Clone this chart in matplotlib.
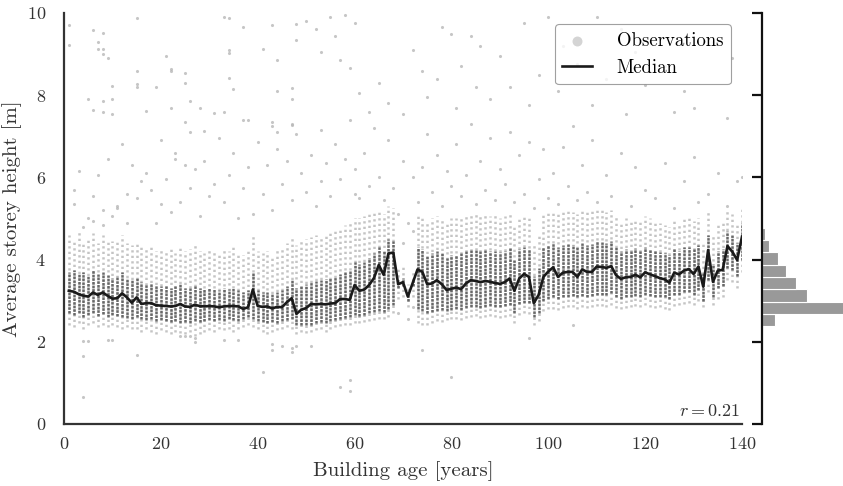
import matplotlib
matplotlib.use("Agg")
import matplotlib.pyplot as plt
import numpy as np

plt.rcParams['font.family'] = 'cmr10'
plt.rcParams['mathtext.fontset'] = 'cm'
plt.rcParams['axes.formatter.use_mathtext'] = True

# median storey height per building age (years 1..140)
ages = np.arange(1, 141)
median = [3.24, 3.22, 3.16, 3.12, 3.10, 3.20, 3.14, 3.20, 3.12, 3.05,
          3.06, 3.18, 3.08, 2.95, 3.08, 2.92, 2.94, 2.94, 2.89, 2.88,
          2.87, 2.86, 2.87, 2.92, 2.86, 2.85, 2.90, 2.87, 2.86, 2.87,
          2.86, 2.84, 2.86, 2.87, 2.87, 2.86, 2.80, 2.84, 3.27, 2.87,
          2.85, 2.86, 2.81, 2.85, 2.84, 2.96, 3.06, 2.68, 2.78, 2.82,
          2.92, 2.91, 2.92, 2.91, 2.93, 2.94, 3.04, 3.04, 3.02, 3.38,
          3.24, 3.27, 3.38, 3.55, 3.87, 3.63, 4.15, 4.17, 3.40, 3.45,
          3.10, 3.43, 3.76, 3.70, 3.40, 3.42, 3.50, 3.40, 3.26, 3.29,
          3.32, 3.28, 3.42, 3.50, 3.48, 3.45, 3.48, 3.46, 3.43, 3.41,
          3.45, 3.54, 3.24, 3.54, 3.65, 3.58, 2.94, 3.14, 3.58, 3.71,
          3.81, 3.58, 3.68, 3.70, 3.70, 3.58, 3.76, 3.70, 3.70, 3.83,
          3.82, 3.80, 3.84, 3.62, 3.53, 3.57, 3.58, 3.63, 3.57, 3.69,
          3.64, 3.60, 3.55, 3.52, 3.44, 3.68, 3.64, 3.73, 3.77, 3.65,
          3.83, 3.34, 4.23, 3.46, 3.73, 3.75, 4.33, 4.19, 3.99, 4.56]

# dense part of the observation column at each age
core_lo = [2.70, 2.65, 2.70, 2.60, 2.65, 2.70, 2.62, 2.68, 2.60, 2.65,
           2.62, 2.60, 2.58, 2.55, 2.60, 2.55, 2.52, 2.55, 2.50, 2.52,
           2.50, 2.48, 2.50, 2.45, 2.48, 2.45, 2.50, 2.48, 2.50, 2.52,
           2.50, 2.52, 2.50, 2.55, 2.52, 2.50, 2.55, 2.60, 2.55, 2.50,
           2.48, 2.45, 2.48, 2.45, 2.50, 2.52, 2.55, 2.40, 2.42, 2.40,
           2.42, 2.45, 2.48, 2.45, 2.50, 2.52, 2.55, 2.58, 2.60, 2.65,
           2.62, 2.65, 2.70, 2.72, 2.75, 2.72, 2.80, 2.90, 3.30, 3.35,
           3.00, 3.35, 2.80, 2.75, 2.70, 2.72, 2.75, 2.78, 2.75, 2.78,
           2.80, 2.78, 2.82, 2.85, 2.85, 2.82, 2.85, 2.88, 2.85, 2.85,
           2.88, 2.90, 2.70, 2.92, 2.95, 2.95, 2.60, 2.70, 3.00, 3.05,
           3.08, 3.05, 3.10, 3.10, 3.12, 3.08, 3.12, 3.10, 3.12, 3.15,
           3.15, 3.15, 3.18, 3.10, 3.05, 3.08, 3.10, 3.12, 3.10, 3.15,
           3.12, 3.10, 3.10, 3.08, 3.05, 3.15, 3.15, 3.20, 3.20, 3.15,
           3.25, 3.00, 3.50, 3.10, 3.30, 3.35, 3.80, 3.75, 3.60, 4.00]
core_hi = [3.70, 3.75, 3.65, 3.70, 3.60, 3.75, 3.65, 3.70, 3.62, 3.55,
           3.60, 3.70, 3.55, 3.50, 3.55, 3.45, 3.40, 3.42, 3.38, 3.35,
           3.35, 3.32, 3.35, 3.40, 3.30, 3.32, 3.35, 3.30, 3.28, 3.30,
           3.28, 3.25, 3.30, 3.28, 3.30, 3.25, 3.20, 3.25, 3.70, 3.25,
           3.20, 3.22, 3.18, 3.20, 3.25, 3.35, 3.50, 3.30, 3.35, 3.40,
           3.45, 3.48, 3.50, 3.52, 3.55, 3.58, 3.65, 3.70, 3.75, 3.95,
           3.90, 3.95, 4.05, 4.15, 4.30, 4.20, 4.50, 4.45, 3.50, 3.55,
           3.20, 3.50, 4.30, 4.25, 4.10, 4.15, 4.20, 4.15, 4.05, 4.10,
           4.10, 4.15, 4.20, 4.25, 4.25, 4.22, 4.25, 4.20, 4.20, 4.18,
           4.20, 4.28, 4.00, 4.25, 4.30, 4.25, 3.60, 3.80, 4.30, 4.35,
           4.40, 4.30, 4.35, 4.38, 4.35, 4.30, 4.40, 4.35, 4.38, 4.45,
           4.42, 4.40, 4.45, 4.30, 4.20, 4.25, 4.22, 4.28, 4.20, 4.30,
           4.25, 4.20, 4.18, 4.15, 4.10, 4.25, 4.22, 4.30, 4.30, 4.25,
           4.35, 3.70, 4.60, 3.90, 4.20, 4.25, 4.70, 4.60, 4.40, 4.90]
# sparse part of the column
halo_lo = [2.40, 2.35, 2.45, 2.30, 2.40, 2.45, 2.35, 2.40, 2.35, 2.40,
           2.35, 2.30, 2.35, 2.30, 2.30, 2.25, 2.30, 2.25, 2.20, 2.28,
           2.25, 2.20, 2.25, 2.22, 2.20, 2.25, 2.15, 2.20, 2.25, 2.28,
           2.25, 2.30, 2.28, 2.30, 2.25, 2.30, 2.35, 2.40, 2.35, 2.30,
           2.25, 2.20, 2.25, 2.28, 2.30, 2.35, 2.30, 2.20, 2.25, 2.22,
           2.25, 2.28, 2.30, 2.25, 2.30, 2.35, 2.38, 2.40, 2.42, 2.45,
           2.45, 2.48, 2.50, 2.52, 2.55, 2.55, 2.60, 2.70, 3.05, 3.10,
           2.85, 3.10, 2.45, 2.40, 2.42, 2.45, 2.50, 2.48, 2.52, 2.55,
           2.55, 2.52, 2.58, 2.60, 2.62, 2.58, 2.60, 2.62, 2.60, 2.58,
           2.60, 2.62, 2.45, 2.65, 2.70, 2.68, 2.40, 2.50, 2.75, 2.80,
           2.80, 2.78, 2.82, 2.85, 2.85, 2.80, 2.85, 2.82, 2.85, 2.88,
           2.88, 2.85, 2.90, 2.82, 2.80, 2.82, 2.85, 2.88, 2.85, 2.90,
           2.85, 2.82, 2.85, 2.80, 2.78, 2.88, 2.90, 2.92, 2.95, 2.90,
           3.00, 2.85, 3.20, 2.90, 3.05, 3.10, 3.50, 3.45, 3.30, 3.70]
halo_hi = [4.60, 4.50, 4.70, 4.45, 4.55, 4.65, 4.40, 4.60, 4.50, 4.45,
           4.50, 4.60, 4.40, 4.35, 4.45, 4.30, 4.25, 4.30, 4.20, 4.25,
           4.20, 4.25, 4.15, 4.30, 4.20, 4.25, 4.35, 4.20, 4.15, 4.25,
           4.20, 4.15, 4.25, 4.20, 4.30, 4.15, 4.10, 4.20, 4.60, 4.20,
           4.15, 4.20, 4.10, 4.25, 4.30, 4.40, 4.55, 4.35, 4.45, 4.50,
           4.55, 4.60, 4.55, 4.65, 4.70, 4.70, 4.80, 4.85, 4.90, 5.00,
           5.00, 5.05, 5.10, 5.15, 5.20, 5.10, 5.30, 5.25, 3.80, 3.85,
           3.40, 3.75, 5.10, 5.05, 4.95, 5.00, 5.05, 5.00, 4.95, 5.00,
           5.00, 5.05, 5.10, 5.10, 5.15, 5.05, 5.10, 5.05, 5.10, 5.00,
           5.05, 5.10, 4.80, 5.05, 5.10, 5.05, 4.40, 4.60, 5.10, 5.15,
           5.20, 5.10, 5.15, 5.20, 5.15, 5.10, 5.20, 5.15, 5.20, 5.25,
           5.20, 5.15, 5.20, 5.05, 4.95, 5.00, 4.95, 5.00, 4.95, 5.05,
           5.00, 4.95, 4.90, 4.85, 4.80, 4.95, 4.90, 5.00, 5.00, 4.95,
           5.00, 4.40, 5.20, 4.60, 4.90, 4.95, 5.20, 5.10, 4.90, 5.30]

# scattered single observations
high_age = [1, 1, 6, 7, 8, 7, 8, 8, 9, 15, 21, 33, 34, 34, 34, 37, 41, 43, 44, 48, 48,
            15, 15, 15, 22, 22, 25, 25, 19, 10, 34, 35, 44, 47, 47, 5, 6, 8, 8, 10, 10,
            17, 22, 26, 25, 26, 28, 29, 31, 33, 37, 38, 43, 43, 44, 47, 47,
            55, 58, 60, 50, 52, 56, 53, 57, 59, 78, 80, 84, 86, 82, 77, 85, 88, 81,
            95, 100, 103, 106, 98, 102, 96, 92, 90, 110, 115, 118, 112, 120, 109, 116,
            124, 128, 134, 130, 138, 126, 137, 61, 63, 65, 67, 70, 72, 74, 75]
high_h = [9.71, 9.22, 9.59, 9.30, 9.52, 9.12, 9.12, 9.00, 8.90, 9.87, 8.95, 9.90, 9.88, 9.10, 9.02, 9.67, 9.12, 9.70, 8.86, 9.74, 9.34,
          8.60, 8.27, 8.20, 8.64, 8.58, 8.53, 8.30, 8.20, 8.22, 8.42, 8.15, 8.10, 8.17, 7.90, 7.90, 7.65, 7.85, 7.60, 7.90, 7.55,
          7.61, 7.68, 7.85, 7.35, 7.10, 7.70, 7.12, 7.56, 7.60, 7.40, 7.40, 7.35, 7.25, 7.10, 7.30, 7.28,
          9.90, 9.95, 9.75, 9.80, 9.60, 9.45, 9.05, 8.85, 8.65, 9.65, 9.50, 9.45, 9.20, 8.70, 8.40, 8.20, 7.90, 7.70,
          9.75, 9.90, 9.20, 8.75, 8.50, 8.10, 7.75, 8.20, 8.95, 9.90, 9.60, 9.05, 8.40, 8.25, 7.75, 7.55,
          8.70, 8.10, 9.30, 7.70, 8.90, 7.60, 7.45, 8.05, 7.60, 8.30, 7.80, 7.55, 9.10, 8.60, 7.95]
mid_age = [2, 3, 2, 4, 5, 6, 6, 7, 8, 8, 9, 10, 11, 11, 12, 13, 13, 14, 15, 16, 17, 18, 19, 20, 20,
           21, 22, 23, 23, 24, 25, 26, 27, 28, 29, 30, 31, 32, 33, 34, 35, 36, 37, 38, 39, 40,
           41, 42, 43, 44, 45, 46, 47, 48, 49, 50, 51, 52, 53, 53, 54, 55, 56, 57, 58, 59, 60, 60,
           61, 62, 63, 64, 65, 66, 67, 68, 69, 70, 71, 72, 73, 74, 75, 76, 77, 78, 79, 80,
           81, 82, 83, 84, 85, 86, 87, 88, 89, 90, 91, 92, 93, 94, 95, 96, 97, 98, 99, 100,
           101, 102, 103, 104, 105, 106, 107, 108, 109, 110, 112, 113, 115, 117, 118, 120,
           122, 124, 126, 128, 130, 131, 133, 135, 137, 139, 140]
mid_h = [5.70, 6.15, 5.35, 4.80, 5.00, 4.95, 5.55, 6.05, 5.20, 4.85, 6.45, 5.05, 5.30, 5.25, 6.80, 5.60, 4.90, 6.30, 5.50, 5.90, 6.10, 5.70, 4.90, 6.90, 5.35,
         5.95, 5.15, 6.60, 6.45, 5.40, 6.30, 5.75, 6.20, 5.05, 6.40, 5.55, 5.85, 6.95, 5.40, 6.05, 6.60, 5.00, 5.75, 6.25, 5.10, 6.85,
         5.60, 6.30, 5.20, 6.70, 5.85, 6.40, 5.45, 7.05, 6.10, 5.65, 6.55, 5.30, 7.15, 5.90, 6.35, 5.55, 6.80, 5.95, 6.45, 7.40, 5.60, 6.20,
         5.50, 6.60, 5.80, 7.20, 6.00, 5.45, 6.90, 5.75, 5.10, 6.40, 4.90, 6.00, 5.40, 6.25, 7.05, 5.65, 6.55, 5.30, 6.15, 5.80,
         6.80, 5.55, 6.05, 7.30, 5.35, 6.40, 5.70, 6.95, 5.45, 6.20, 5.85, 7.10, 5.40, 6.55, 5.60, 6.85, 5.25, 5.95, 6.70, 5.50,
         6.10, 5.35, 6.75, 5.80, 7.25, 5.45, 6.30, 5.65, 6.90, 5.40, 6.05, 5.55, 6.60, 5.30, 6.25, 5.70,
         5.50, 6.35, 5.25, 5.90, 6.50, 5.40, 5.60, 6.10, 5.30, 5.90, 6.00]
low_age = [4, 4, 4, 5, 9, 10, 15, 27, 27, 26, 25, 24, 33, 36, 41, 43, 43, 45, 47, 47, 48, 51, 57, 59, 59, 74, 80, 96, 105,
           69, 70, 71, 72, 72]
low_h = [0.65, 1.65, 2.02, 2.02, 2.05, 2.05, 1.68, 2.10, 2.00, 2.15, 2.15, 2.15, 2.05, 2.05, 1.27, 1.95, 1.80, 1.90, 1.85, 1.75, 1.90, 1.90, 0.91, 1.07, 0.81, 1.80, 1.15, 2.10, 2.40,
         2.70, 4.40, 2.55, 4.70, 2.85]

# histogram on the right (bins of 0.3 m, relative counts)
hist_lo = [2.38, 2.68, 2.98, 3.28, 3.58, 3.88, 4.18, 4.48, 4.78]
hist_counts = [13, 95, 45, 34, 24, 16, 7.5, 3.3, 1.5]

fig = plt.figure(figsize=(8.43, 4.86), dpi=100)
ax = fig.add_axes([0.0759, 0.1276, 0.8043, 0.8457])
axh = fig.add_axes([0.9039, 0.1276, 0.0961, 0.8457])

ax.vlines(ages, halo_lo, halo_hi, color='#c4c4c4', lw=1.8, linestyles=(0, (0.9, 1.3)), zorder=1)
ax.vlines(ages, core_lo, core_hi, color='#686868', lw=1.8, linestyles=(0, (1.0, 0.45)), zorder=2)
obs_age = high_age + mid_age + low_age
obs_h = high_h + mid_h + low_h
ax.scatter(obs_age, obs_h, s=5, color='#b8b8b8', alpha=0.8, lw=0, zorder=3, label='Observations')
ax.plot(ages, median, color='#1a1a1a', lw=1.9, zorder=4, label='Median')

ax.set_xlim(0, 140)
ax.set_ylim(0, 10)
ax.set_xticks([0, 20, 40, 60, 80, 100, 120, 140])
ax.set_yticks([0, 2, 4, 6, 8, 10])
ax.tick_params(length=0, labelsize=13, colors='#333333')
ax.tick_params(axis='y', pad=13)
ax.tick_params(axis='x', pad=9)
for s in ['top', 'right']:
    ax.spines[s].set_visible(False)
for s in ['left', 'bottom']:
    ax.spines[s].set_linewidth(1.6)
    ax.spines[s].set_color('#333333')
ax.set_xlabel('Building age [years]', fontsize=15, color='#333333', labelpad=6)
ax.set_ylabel('Average storey height [m]', fontsize=15, color='#333333')
ax.yaxis.set_label_coords(-0.062, 0.5)
ax.text(0.997, 0.012, r'$r = 0.21$', transform=ax.transAxes, ha='right', va='bottom',
        fontsize=13, color='#333333')

leg = ax.legend(loc='upper right', fontsize=13.5, markerscale=3.2, frameon=True,
                fancybox=True, borderaxespad=0.6, handlelength=1.6, handletextpad=1.3)
leg.get_frame().set_edgecolor('#888888')
leg.get_frame().set_linewidth(0.8)
leg.legend_handles[0].set_color('#d4d4d4')
leg.legend_handles[0].set_alpha(1)

axh.barh(hist_lo, hist_counts, height=0.3, align='edge', color='#999999',
         edgecolor='white', linewidth=0.8)
axh.set_ylim(0, 10)
axh.set_xlim(0, 81)
axh.set_yticks([0, 2, 4, 6, 8, 10])
axh.set_yticklabels([])
axh.set_xticks([])
axh.tick_params(axis='y', length=7, width=1.6, color='#111111')
for s in ['top', 'right', 'bottom']:
    axh.spines[s].set_visible(False)
axh.spines['left'].set_linewidth(1.6)
axh.spines['left'].set_color('#111111')

fig.savefig('out.png', dpi=100)
